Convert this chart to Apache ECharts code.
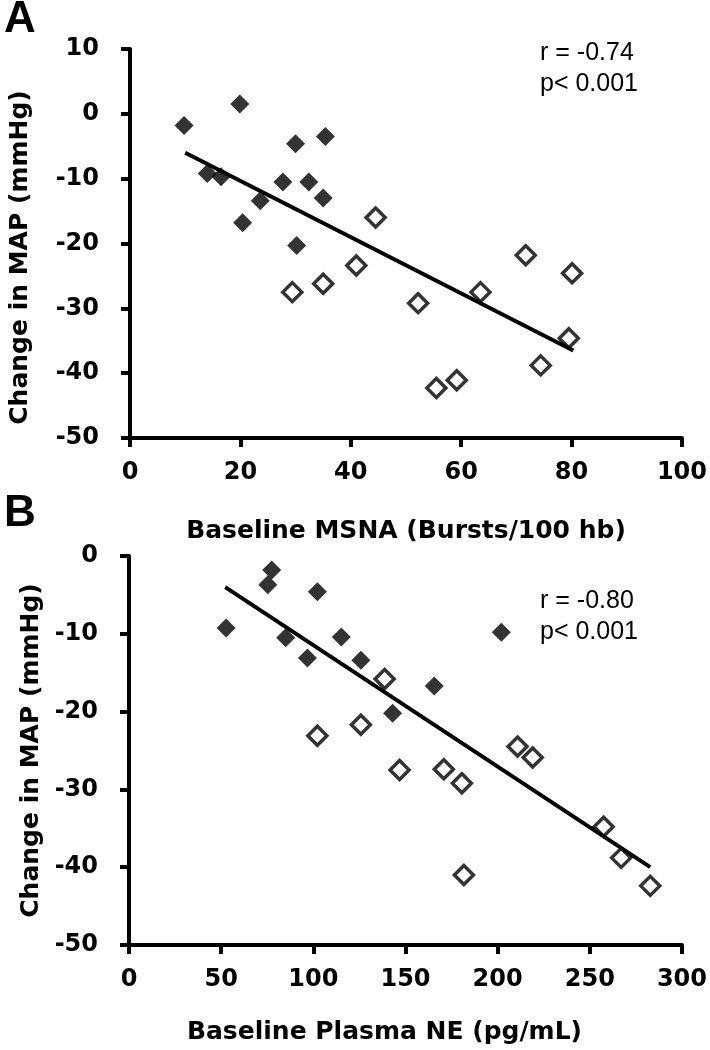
<!DOCTYPE html>
<html><head><meta charset="utf-8">
<script src="https://cdn.jsdelivr.net/npm/echarts@6/dist/echarts.min.js"></script>
<style>html,body{margin:0;padding:0;background:#fff}#c{width:710px;height:1050px}</style>
</head><body><div id="c"></div>
<script>
// Panel A: Baseline MSNA vs change in MAP
const aXTicks = [0, 20, 40, 60, 80, 100];
const aYTicks = [10, 0, -10, -20, -30, -40, -50];
const aFilled = [[9.8,-1.8],[19.9,1.5],[14,-9.2],[16.5,-9.7],[20.4,-16.8],[23.6,-13.4],[27.7,-10.5],[30,-4.6],[32.4,-10.5],[35.4,-3.5],[35,-13],[30.2,-20.3]];
const aOpen = [[29.4,-27.5],[35,-26.2],[41,-23.4],[44.5,-16],[52.2,-29.2],[55.5,-42.3],[59.2,-41.1],[63.5,-27.5],[71.7,-21.8],[80.1,-24.6],[79.5,-34.6],[74.4,-38.8]];
const aTrend = [[10,-6],[80.3,-36.5]];
// Panel B: Baseline plasma NE vs change in MAP
const bXTicks = [0, 50, 100, 150, 200, 250, 300];
const bYTicks = [0, -10, -20, -30, -40, -50];
const bFilled = [[52.7,-9.25],[75.3,-3.7],[77.4,-1.8],[85,-10.5],[96.8,-13.1],[102.2,-4.6],[115.2,-10.4],[125.8,-13.4],[143,-20.2],[165.6,-16.7],[202,-9.8]];
const bOpen = [[138.7,-15.8],[102.2,-23.1],[125.8,-21.7],[146.8,-27.5],[170.8,-27.4],[180.6,-29.2],[181.7,-41],[210.8,-24.5],[219,-25.9],[257.5,-34.8],[267,-38.8],[282.8,-42.4]];
const bTrend = [[52.2,-4],[282.8,-40]];
const statsA = ['r = -0.74', 'p< 0.001'];
const statsB = ['r = -0.80', 'p< 0.001'];

const BOLD = 'DejaVu Sans';
const REG = 'Liberation Sans';
const axisCommon = {
  axisLine: {show: true, onZero: false, lineStyle: {color: '#000', width: 4}},
  axisTick: {show: true, inside: false, length: 9, lineStyle: {color: '#000', width: 4}},
  splitLine: {show: false},
  nameLocation: 'middle',
  nameTextStyle: {fontFamily: BOLD, fontWeight: 'bold', fontSize: 25, color: '#000'}
};
function xAxis(idx, ticks, title, gap, pad) {
  return Object.assign({}, axisCommon, {
    type: 'value', gridIndex: idx, min: ticks[0], max: ticks[ticks.length-1],
    interval: ticks[1]-ticks[0], name: title, nameGap: gap,
    nameTextStyle: Object.assign({}, axisCommon.nameTextStyle, {padding: pad}),
    axisLabel: {margin: 23, fontFamily: BOLD, fontWeight: 'bold', fontSize: 24, color: '#000'}
  });
}
function yAxis(idx, ticks, title, gap, pad) {
  const lo = ticks[ticks.length-1], hi = ticks[0];
  return Object.assign({}, axisCommon, {
    type: 'value', gridIndex: idx, min: lo, max: hi, interval: ticks[0]-ticks[1],
    name: title, nameGap: gap, nameRotate: 90,
    nameTextStyle: Object.assign({}, axisCommon.nameTextStyle, {padding: pad}),
    axisLabel: {margin: 31, fontFamily: BOLD, fontWeight: 'bold', fontSize: 24, color: '#000'}
  });
}
function filled(idx, data) {
  return {type: 'scatter', xAxisIndex: idx, yAxisIndex: idx, data: data, symbol: 'diamond',
    symbolSize: 19, itemStyle: {color: '#000'}, z: 3};
}
function open(idx, data) {
  return {type: 'scatter', xAxisIndex: idx, yAxisIndex: idx, data: data, symbol: 'diamond',
    symbolSize: 19, itemStyle: {color: '#fff', borderColor: '#000', borderWidth: 3.5}, z: 3};
}
function trend(idx, data) {
  return {type: 'line', xAxisIndex: idx, yAxisIndex: idx, data: data, symbol: 'none',
    lineStyle: {color: '#000', width: 4}, z: 4, silent: true};
}
const chart = echarts.init(document.getElementById('c'), null, {renderer: 'canvas'});
chart.setOption({
  animation: false,
  backgroundColor: '#fff',
  grid: [
    {left: 124, top: 49, width: 559, height: 389},
    {left: 129, top: 556, width: 558, height: 389}
  ],
  xAxis: [
    xAxis(0, aXTicks, 'Baseline MSNA (Bursts/100 hb)', 81, [0,0,0,0]),
    xAxis(1, bXTicks, 'Baseline Plasma NE (pg/mL)', 75, [0,42,0,0])
  ],
  yAxis: [
    yAxis(0, aYTicks, 'Change in MAP (mmHg)', 97, [0,28,0,0]),
    yAxis(1, bYTicks, 'Change in MAP (mmHg)', 84, [0,0,0,0])
  ],
  series: [
    filled(0, aFilled), open(0, aOpen), trend(0, aTrend),
    filled(1, bFilled), open(1, bOpen), trend(1, bTrend)
  ],
  graphic: [
    {type: 'text', left: 4, top: -2, style: {text: 'A', fontFamily: REG, fontWeight: 'bold', fontSize: 44, fill: '#000'}},
    {type: 'text', left: 4, top: 492, style: {text: 'B', fontFamily: REG, fontWeight: 'bold', fontSize: 44, fill: '#000'}},
    {type: 'text', left: 540, top: 38, style: {text: statsA.join('\n'), fontFamily: REG, fontSize: 25, lineHeight: 31, fill: '#000'}},
    {type: 'text', left: 540, top: 586, style: {text: statsB.join('\n'), fontFamily: REG, fontSize: 25, lineHeight: 31, fill: '#000'}}
  ]
});
</script></body></html>
